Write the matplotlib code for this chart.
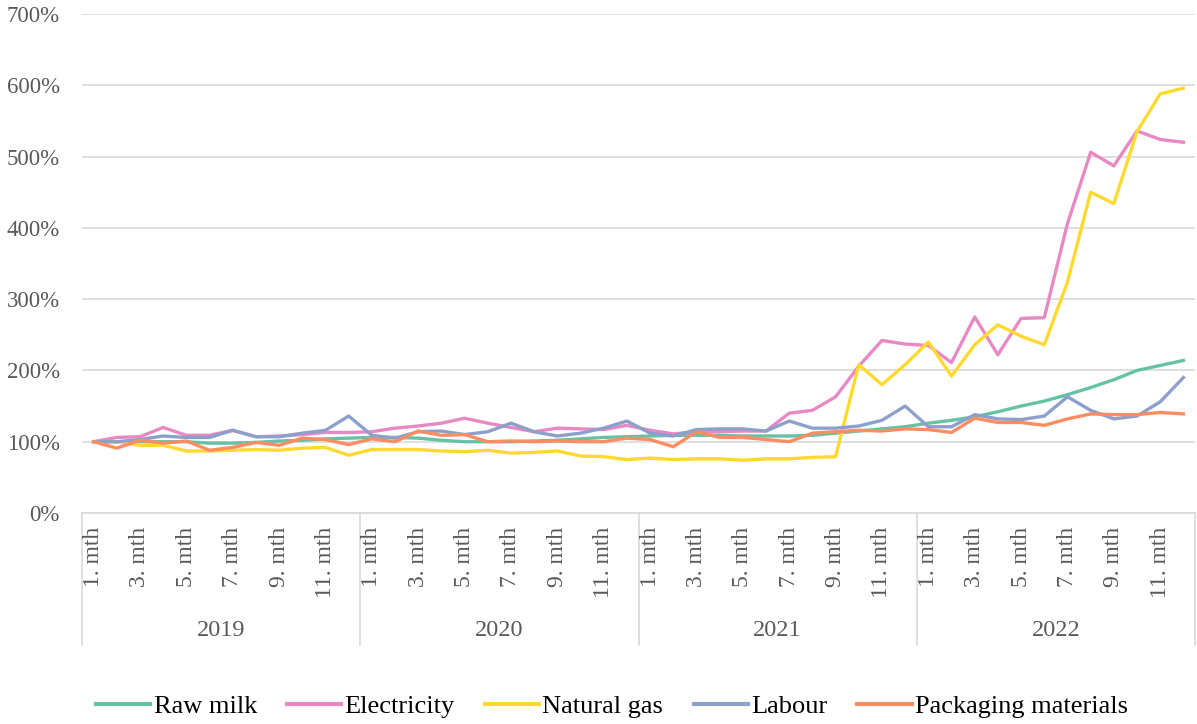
import matplotlib.pyplot as plt
from matplotlib.transforms import blended_transform_factory

# index of input prices, 1. mth 2019 = 100%
years = ["2019", "2020", "2021", "2022"]
month_labels = ["1. mth", "", "3. mth", "", "5. mth", "", "7. mth", "", "9. mth", "", "11. mth", ""]

raw_milk = [100, 100, 100, 100, 100, 98, 98, 99, 101, 102, 104, 105,
            106, 106, 105, 102, 100, 100, 100, 101, 102, 104, 106, 107,
            108, 109, 109, 109, 108, 108, 108, 109, 112, 115, 118, 121,
            126, 130, 135, 142, 150, 157, 166, 176, 187, 200, 207, 214]
electricity = [100, 106, 107, 120, 109, 109, 116, 107, 108, 110, 113, 113,
               114, 119, 122, 126, 133, 126, 120, 114, 119, 118, 117, 123,
               116, 111, 114, 114, 115, 115, 140, 144, 163, 206, 242, 237,
               235, 211, 275, 222, 273, 274, 406, 506, 487, 536, 524, 520]
natural_gas = [100, 100, 95, 95, 87, 87, 88, 89, 88, 91, 92, 81,
               89, 89, 89, 87, 86, 88, 84, 85, 87, 80, 79, 75,
               77, 75, 76, 76, 74, 76, 76, 78, 79, 208, 180, 208,
               240, 192, 236, 264, 248, 236, 324, 450, 434, 535, 588, 596]
labour = [100, 100, 103, 108, 106, 106, 116, 107, 107, 112, 116, 136,
          109, 105, 114, 115, 110, 114, 126, 114, 108, 112, 119, 129,
          112, 108, 117, 118, 118, 115, 129, 119, 119, 122, 130, 150,
          121, 121, 138, 132, 131, 136, 163, 144, 132, 136, 156, 190]
packaging = [100, 91, 102, 98, 101, 88, 92, 99, 95, 105, 103, 96,
             104, 100, 115, 109, 110, 100, 101, 100, 101, 100, 100, 105,
             103, 93, 114, 106, 106, 103, 100, 112, 114, 116, 115, 118,
             117, 113, 133, 127, 127, 123, 132, 139, 138, 138, 141, 139]

series = [
    ("Raw milk", raw_milk, "#66c2a5"),
    ("Electricity", electricity, "#e78ac3"),
    ("Natural gas", natural_gas, "#ffd92f"),
    ("Labour", labour, "#8da0cb"),
    ("Packaging materials", packaging, "#fc8d62"),
]

plt.rcParams['font.family'] = ['Liberation Serif', 'DejaVu Serif']
grey = "#595959"
line_grey = "#d9d9d9"

fig = plt.figure(figsize=(11.97, 7.24), dpi=100)
ax = fig.add_axes([82 / 1197, (724 - 513) / 724, (1195 - 82) / 1197, 499 / 724])

x = list(range(len(raw_milk)))
for name, vals, col in series:
    ax.plot(x, vals, color=col, lw=2.4, label=name, solid_joinstyle='round')

ax.set_xlim(-0.5, len(x) - 0.5)
ax.set_ylim(0, 700)
ax.set_yticks(range(0, 701, 100))
ax.set_yticklabels([f"{v}%" for v in range(0, 701, 100)], color=grey, fontsize=16.5)
ax.tick_params(axis='y', length=0, pad=16)
ax.set_xticks([])
ax.grid(axis='y', color=line_grey, lw=1.2)
ax.set_axisbelow(True)
for s in ["top", "right", "left"]:
    ax.spines[s].set_visible(False)
ax.spines["bottom"].set_color(line_grey)
ax.spines["bottom"].set_linewidth(1.2)

# two-level category axis
trans = blended_transform_factory(ax.transData, ax.transAxes)
for yi, year in enumerate(years):
    for mi, lab in enumerate(month_labels):
        if lab:
            ax.text(yi * 12 + mi, -0.028, lab, transform=trans, rotation=90,
                    ha='center', va='top', color=grey, fontsize=17)
    ax.text(yi * 12 + 5.5, -0.2345, year, transform=trans, ha='center',
            va='center', color=grey, fontsize=17.5)
for b in range(len(years) + 1):
    ax.plot([b * 12 - 0.5, b * 12 - 0.5], [0, -0.2645], transform=trans,
            color=line_grey, lw=1.2, clip_on=False)

leg = fig.legend(loc='center', bbox_to_anchor=(612 / 1197, 18 / 724), ncol=5,
                 frameon=False, fontsize=19, handlelength=2.05, handletextpad=0.12,
                 columnspacing=1.15)
for h in leg.get_lines():
    h.set_linewidth(3)

fig.savefig("out.png", dpi=100)
